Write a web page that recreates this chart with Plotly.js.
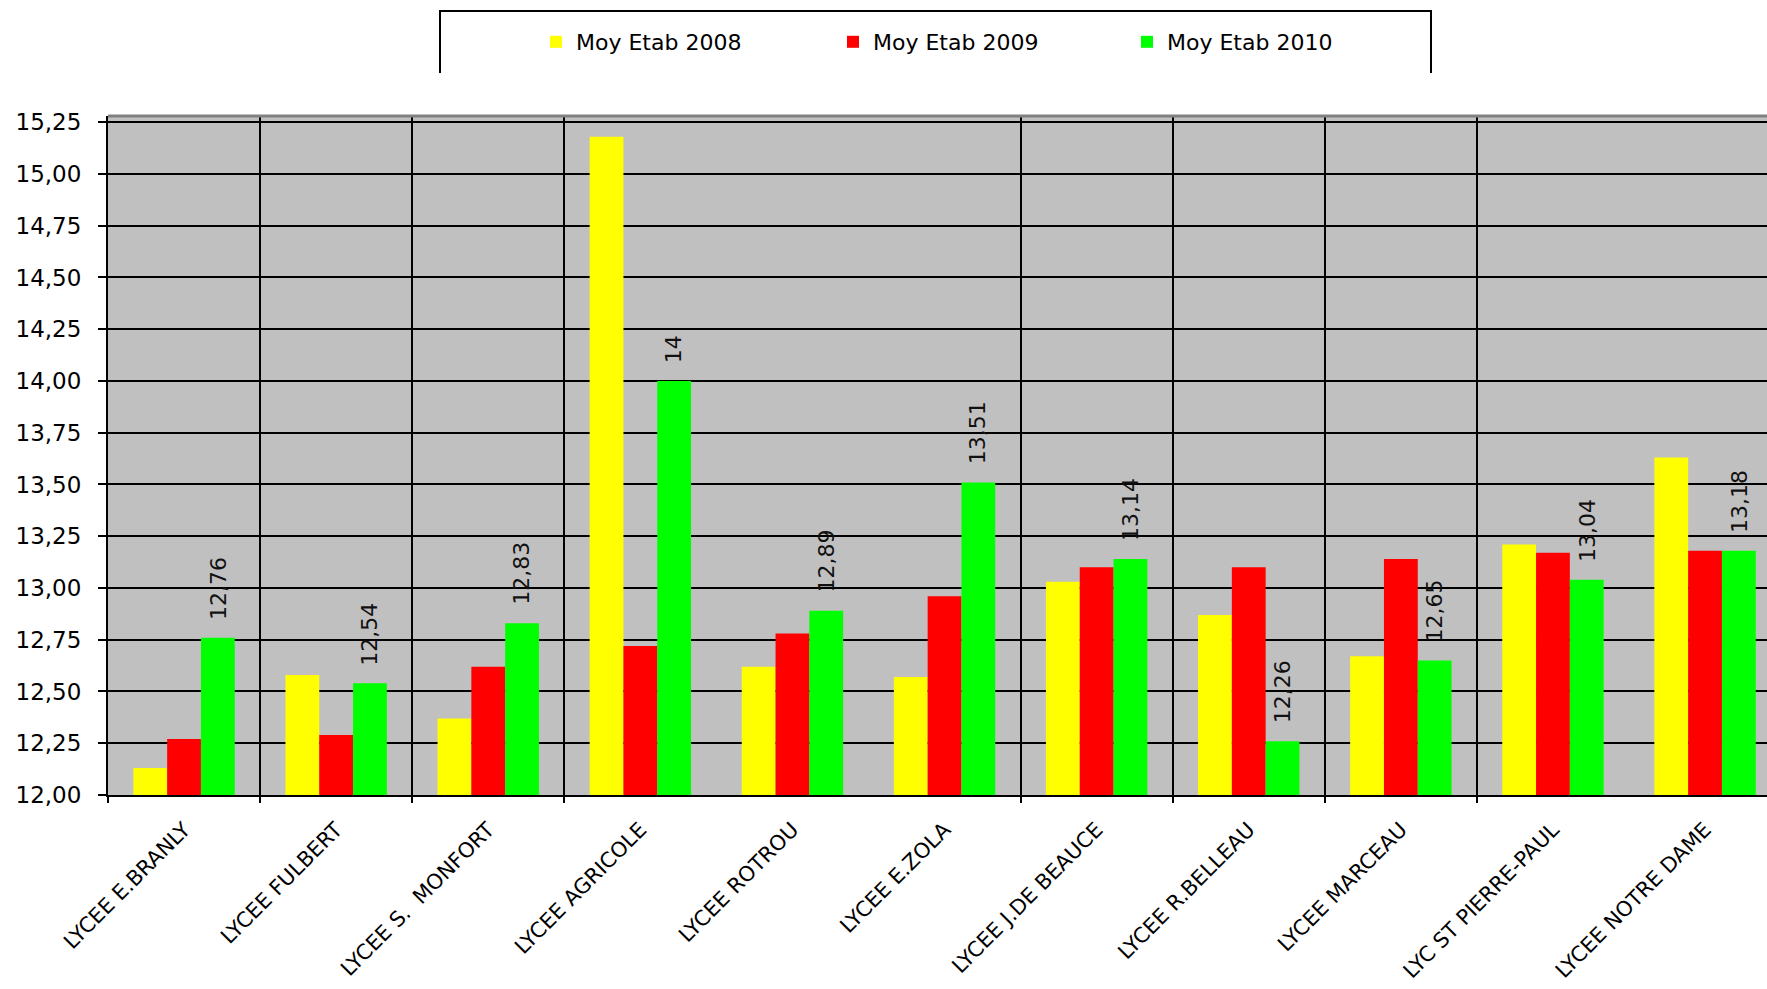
<!DOCTYPE html>
<html>
<head>
<meta charset="utf-8">
<script src="https://cdn.plot.ly/plotly-3.0.1.min.js"></script>
<style>
html, body { margin: 0; padding: 0; background: #ffffff; }
#chart { width: 1767px; height: 989px; }
</style>
</head>
<body>
<div id="chart"></div>
<script>
// ---- data ----
const categories = ['LYCEE E.BRANLY', 'LYCEE FULBERT', 'LYCEE S.  MONFORT', 'LYCEE AGRICOLE', 'LYCEE ROTROU',
  'LYCEE E.ZOLA', 'LYCEE J.DE BEAUCE', 'LYCEE R.BELLEAU', 'LYCEE MARCEAU', 'LYC ST PIERRE-PAUL', 'LYCEE NOTRE DAME'];
const seriesNames = ['Moy Etab 2008', 'Moy Etab 2009', 'Moy Etab 2010'];
const moy2008 = [12.13, 12.58, 12.37, 15.18, 12.62, 12.57, 13.03, 12.87, 12.67, 13.21, 13.63];
const moy2009 = [12.27, 12.29, 12.62, 12.72, 12.78, 12.96, 13.10, 13.10, 13.14, 13.17, 13.18];
const moy2010 = [12.76, 12.54, 12.83, 14, 12.89, 13.51, 13.14, 12.26, 12.65, 13.04, 13.18];
const seriesColors = ['#FFFF00', '#FF0000', '#00FF00'];

// ---- layout geometry (pixels) ----
const W = 1767, H = 989;
const M = { l: 108, r: 0, t: 116, b: 194 };
const PW = W - M.l - M.r, PH = H - M.t - M.b;
const catPx = 152.1;
const bargap = 1 / 3;
const fx = px => (px - M.l) / PW;
const fy = py => 1 + (M.t - py) / PH;
const FONT = 'DejaVu Sans';

const idx = categories.map((c, i) => i);
const values = [moy2008, moy2009, moy2010];

const traces = values.map((vals, k) => ({
  type: 'bar',
  name: seriesNames[k],
  x: idx,
  y: vals,
  marker: { color: seriesColors[k], line: { width: 0 } },
  legend: k === 0 ? 'legend' : 'legend' + (k + 1),
  hoverinfo: 'skip'
}));

const barW = (1 - bargap) / 3;
const annotations = moy2010.map((v, i) => ({
  x: i + barW, y: v, xref: 'x', yref: 'y',
  text: String(v).replace('.', ','),
  showarrow: false, textangle: -90,
  xanchor: 'center', yanchor: 'bottom', yshift: 16,
  font: { family: FONT, size: 22, color: '#111111' }
}));

const legendSymLeft = [550, 847, 1141];
const legendBase = (k) => ({
  orientation: 'h', x: fx(legendSymLeft[k] - 14), xanchor: 'left',
  y: fy(42), yanchor: 'middle', bgcolor: 'rgba(0,0,0,0)', borderwidth: 0,
  font: { family: FONT, size: 22, color: '#000000' }
});

const frame = 'M ' + fx(440) + ',' + fy(73) + ' L ' + fx(440) + ',' + fy(11) +
  ' L ' + fx(1431) + ',' + fy(11) + ' L ' + fx(1431) + ',' + fy(73);

const layout = {
  width: W, height: H,
  margin: M,
  paper_bgcolor: '#ffffff', plot_bgcolor: '#C0C0C0',
  separators: ', ',
  barmode: 'group', bargap: bargap, bargroupgap: 0,
  showlegend: true,
  legend: legendBase(0), legend2: legendBase(1), legend3: legendBase(2),
  xaxis: {
    type: 'linear', range: [-0.5, -0.5 + PW / catPx],
    tickmode: 'array', tickvals: idx, ticktext: categories,
    tickangle: -45, ticks: '', showgrid: false, zeroline: false,
    showline: true, linecolor: '#000000', linewidth: 2,
    ticklabelstandoff: 12,
    tickfont: { family: FONT, size: 21, color: '#000000' },
    minor: {
      tickmode: 'array', tickvals: [-0.5, 0.5, 1.5, 2.5, 5.5, 6.5, 7.5, 8.5],
      showgrid: true, gridcolor: '#000000', gridwidth: 2,
      ticks: 'outside', ticklen: 6, tickwidth: 2, tickcolor: '#000000'
    },
    fixedrange: true
  },
  yaxis: {
    range: [12, 15.28], tick0: 12, dtick: 0.25, tickformat: '.2f',
    showgrid: true, gridcolor: '#000000', gridwidth: 2, zeroline: false,
    showline: true, linecolor: '#000000', linewidth: 2,
    ticks: 'outside', ticklen: 8, tickwidth: 2, tickcolor: '#000000',
    ticklabelstandoff: 12,
    tickfont: { family: FONT, size: 23, color: '#000000' },
    fixedrange: true
  },
  annotations: annotations,
  shapes: [
    { type: 'line', xref: 'paper', yref: 'paper', x0: 0, x1: 1, y0: 1, y1: 1,
      line: { color: '#808080', width: 3 } },
    { type: 'path', xref: 'paper', yref: 'paper', path: frame,
      line: { color: '#000000', width: 2 } }
  ],
  hovermode: false
};

Plotly.newPlot('chart', traces, layout, { displayModeBar: false, staticPlot: true });
</script>
</body>
</html>
